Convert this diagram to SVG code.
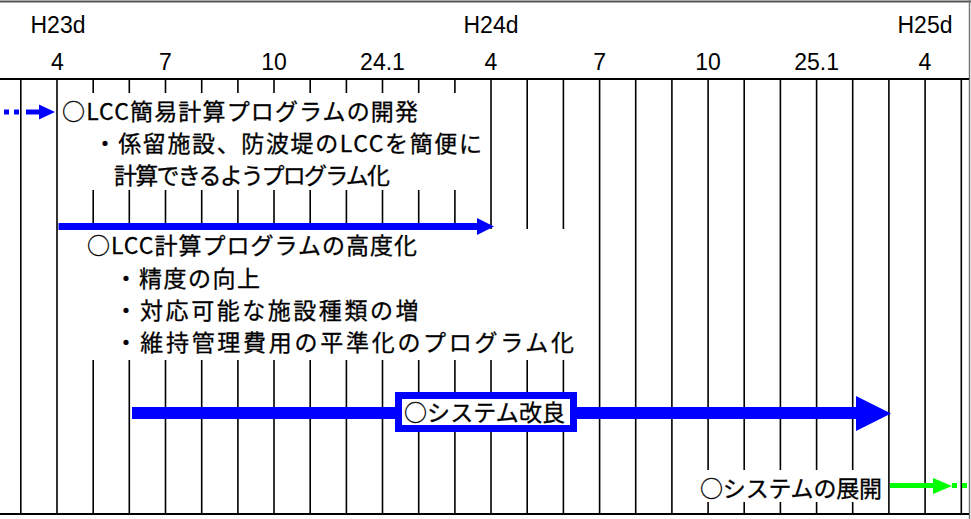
<svg xmlns="http://www.w3.org/2000/svg" width="971" height="519" viewBox="0 0 971 519">
<style>
.hd{font-family:"Liberation Sans",Arial,sans-serif;font-size:23px;fill:#000;text-anchor:middle}
.jp{font-family:"Noto Sans CJK JP","Noto Sans",sans-serif;font-size:23px;fill:#000;stroke:#000;stroke-width:0.3}
.grid{stroke:#000;stroke-width:1.6;fill:none}
.blank{fill:#fff}
.blue{fill:#0000ff}
.green{fill:#00ff00}
</style>
<rect x="0" y="0" width="971" height="519" fill="#fff"/>
<g id="frame">
<line x1="0" y1="1.5" x2="971" y2="1.5" stroke="#555" stroke-width="2"/>
<line x1="969.5" y1="0" x2="969.5" y2="519" stroke="#777" stroke-width="1.5"/>
<line x1="0" y1="79" x2="969" y2="79" stroke="#000" stroke-width="2.2"/>
<line x1="0" y1="514" x2="969" y2="514" stroke="#000" stroke-width="2"/>
</g>
<g id="header">
<text class="hd" x="58" y="33">H23d</text>
<text class="hd" x="491" y="33">H24d</text>
<text class="hd" x="925" y="33">H25d</text>
<text class="hd" x="57.5" y="70">4</text>
<text class="hd" x="165.5" y="70">7</text>
<text class="hd" x="274" y="70">10</text>
<text class="hd" x="382.5" y="70">24.1</text>
<text class="hd" x="491" y="70">4</text>
<text class="hd" x="599.6" y="70">7</text>
<text class="hd" x="708" y="70">10</text>
<text class="hd" x="816.6" y="70">25.1</text>
<text class="hd" x="925" y="70">4</text>
</g>
<g id="grid">
<path class="grid" d="M20.8 80V514M57 80V514M93.2 80V514M129.3 80V514M165.5 80V514M201.7 80V514M237.9 80V514M274 80V514M310.2 80V514M346.4 80V514M382.5 80V514M418.7 80V514M454.9 80V514M491 80V514M527.2 80V514M563.4 80V514M599.6 80V514M635.7 80V514M671.9 80V514M708.1 80V514M744.2 80V514M780.4 80V514M816.6 80V514M852.7 80V514M888.9 80V514M925.1 80V514M961.3 80V514"/>
</g>
<g id="node-lcc-simple">
<rect class="blank" x="58.5" y="93" width="431" height="97"/>
<text class="jp" x="62" y="120" textLength="356" lengthAdjust="spacing">○LCC簡易計算プログラムの開発</text>
<text class="jp" x="93.5" y="152" textLength="388.5" lengthAdjust="spacing">・係留施設、防波堤のLCCを簡便に</text>
<text class="jp" x="114" y="184" textLength="276" lengthAdjust="spacing">計算できるようプログラム化</text>
</g>
<g id="node-lcc-advanced">
<rect class="blank" x="58.5" y="229" width="539.5" height="131"/>
<text class="jp" x="87" y="254" textLength="330" lengthAdjust="spacing">○LCC計算プログラムの高度化</text>
<text class="jp" x="114.5" y="287" textLength="145.5" lengthAdjust="spacing">・精度の向上</text>
<text class="jp" x="114.5" y="319" textLength="304" lengthAdjust="spacing">・対応可能な施設種類の増</text>
<text class="jp" x="114.5" y="351" textLength="459.5" lengthAdjust="spacing">・維持管理費用の平準化のプログラム化</text>
</g>
<g id="node-system-deploy">
<rect class="blank" x="695" y="470" width="191" height="32"/>
<text class="jp" x="700" y="497" textLength="182" lengthAdjust="spacing">○システムの展開</text>
</g>
<g id="connectors">
<rect class="blue" x="4" y="109.5" width="5" height="5"/>
<rect class="blue" x="14" y="109.5" width="5" height="5"/>
<rect class="blue" x="26" y="109.5" width="14" height="5"/>
<polygon class="blue" points="39,104.5 55,112 39,119.5"/>
<rect class="blue" x="58.5" y="223" width="419" height="7"/>
<polygon class="blue" points="477,218 494,226.5 477,235"/>
<rect class="blue" x="132" y="407" width="725" height="12"/>
<polygon class="blue" points="856,396 891,413.5 856,431"/>
<rect class="green" x="890" y="483" width="44" height="5"/>
<polygon class="green" points="933,478 952,486 933,494"/>
<rect class="green" x="952" y="483" width="5" height="5"/>
<rect class="green" x="962" y="483" width="5" height="5"/>
</g>
<g id="node-system-improve">
<rect x="398.5" y="395.5" width="175" height="33" fill="#fff" stroke="#0000ff" stroke-width="7"/>
<text class="jp" x="404" y="421" textLength="161" lengthAdjust="spacing">○システム改良</text>
</g>
</svg>
